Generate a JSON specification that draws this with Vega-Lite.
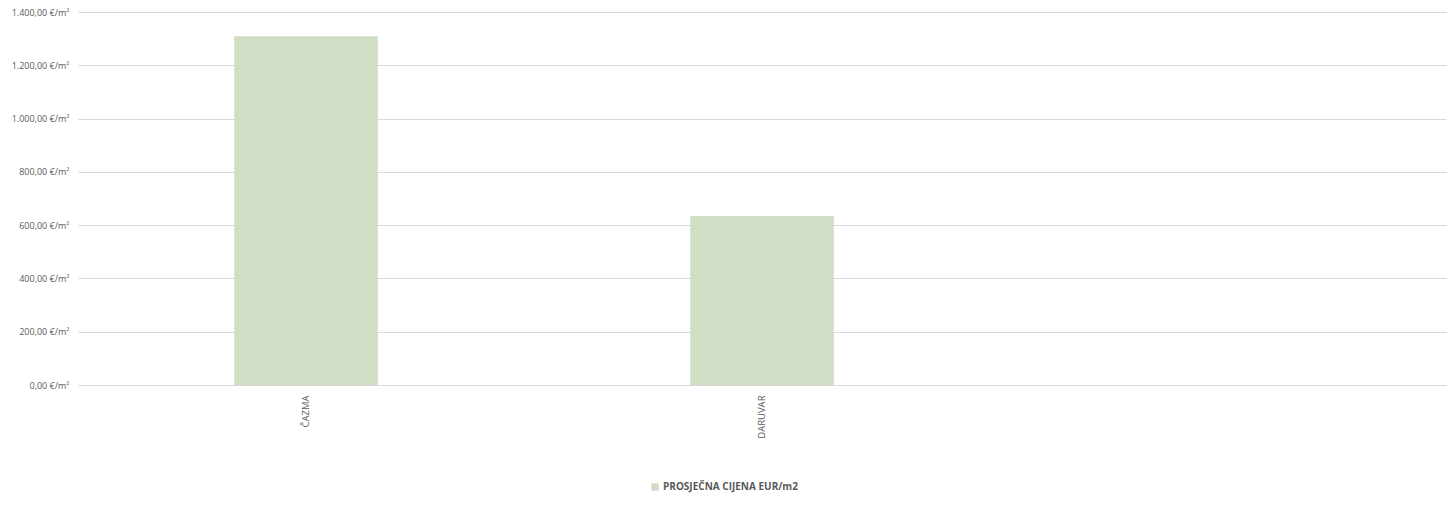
{
  "$schema": "https://vega.github.io/schema/vega-lite/v6.json",
  "width": 1368,
  "height": 373,
  "autosize": {"type": "none"},
  "padding": {"left": 78, "top": 12, "right": 5, "bottom": 121},
  "background": "white",
  "config": {
    "view": {"stroke": null},
    "font": "Open Sans"
  },
  "data": {
    "values": [
      {"grad": "ČAZMA", "cijena": 1309, "serija": "PROSJEČNA CIJENA EUR/m2"},
      {"grad": "DARUVAR", "cijena": 634, "serija": "PROSJEČNA CIJENA EUR/m2"}
    ]
  },
  "mark": {"type": "bar"},
  "encoding": {
    "x": {
      "field": "grad",
      "type": "nominal",
      "sort": null,
      "scale": {"domain": ["ČAZMA", "DARUVAR", " "], "paddingInner": 0.685, "paddingOuter": 0.3425},
      "axis": {
        "title": null,
        "domain": false,
        "ticks": false,
        "labelAngle": -90,
        "labelPadding": 10,
        "labelFontSize": 9.5,
        "labelColor": "#595959",
        "labelFont": "Open Sans"
      }
    },
    "y": {
      "field": "cijena",
      "type": "quantitative",
      "scale": {"domain": [0, 1400], "nice": false},
      "axis": {
        "title": null,
        "domain": false,
        "ticks": false,
        "values": [0, 200, 400, 600, 800, 1000, 1200, 1400],
        "labelExpr": "replace(replace(replace(format(datum.value, ',.2f'), ',', '_'), '.', ','), '_', '.') + ' €/m²'",
        "labelPadding": 9,
        "labelFontSize": 9,
        "labelColor": "#595959",
        "labelFont": "Open Sans",
        "gridColor": "#d9d9d9",
        "gridWidth": 1
      }
    },
    "color": {
      "field": "serija",
      "type": "nominal",
      "scale": {"range": ["#d0dec6"]},
      "legend": {
        "title": null,
        "orient": "none",
        "legendX": 572,
        "legendY": 470,
        "symbolType": "square",
        "symbolSize": 55,
        "symbolStrokeWidth": 0,
        "labelFontSize": 10,
        "labelFontWeight": "bold",
        "labelColor": "#595959",
        "labelFont": "Open Sans",
        "labelOffset": 3
      }
    }
  }
}
